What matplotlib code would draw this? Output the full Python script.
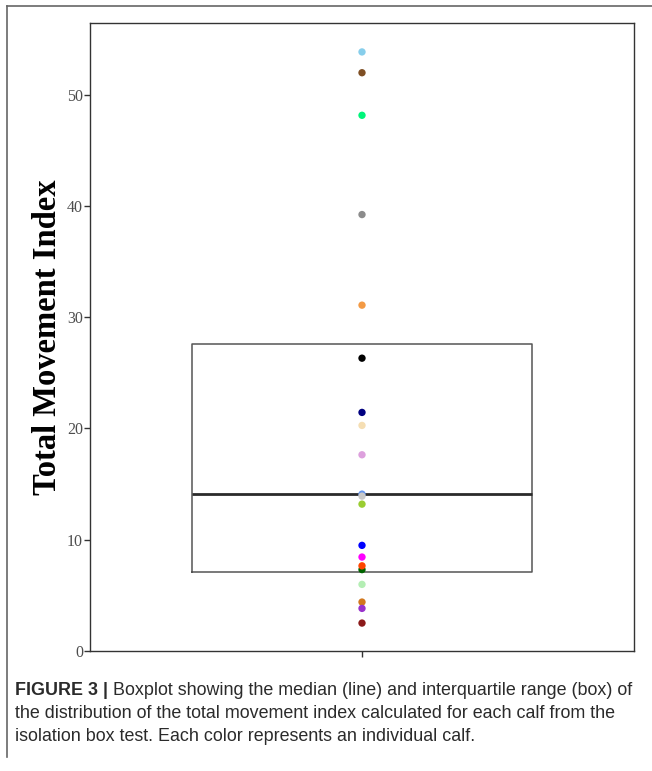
import matplotlib
matplotlib.use("Agg")
import matplotlib.pyplot as plt
from matplotlib.lines import Line2D

# ---- data ----
calf_values = [53.87, 52.0, 48.17, 39.24, 31.09, 26.32, 21.44, 20.27, 17.63,
               14.09, 13.91, 13.19, 9.48, 8.43, 7.30, 7.64, 5.97, 4.38, 3.81, 2.49]
calf_colors = ["#87CEEB", "#7F4F24", "#00F57A", "#8C8C8C", "#F39A45", "#000000",
               "#000080", "#F5DEB3", "#DDA0DD", "#6495ED", "#C8C8C8", "#9ACD32",
               "#0000FF", "#FF00FF", "#006400", "#FF4500", "#B4EEB4", "#D2781E",
               "#9932CC", "#8B1A1A"]
box_q1 = 7.05
box_median = 14.09
box_q3 = 27.58
y_ticks = [0, 10, 20, 30, 40, 50]
y_label = "Total Movement Index"
caption_bold = "FIGURE 3 |"
caption_lines = [" Boxplot showing the median (line) and interquartile range (box) of",
                 "the distribution of the total movement index calculated for each calf from the",
                 "isolation box test. Each color represents an individual calf."]

W, H = 652, 771
fig = plt.figure(figsize=(W / 100, H / 100), dpi=100)
ax = fig.add_axes([90 / W, 1 - 651.3 / H, (634 - 90) / W, (651.3 - 22.7) / H])

stats = [dict(med=box_median, q1=box_q1, q3=box_q3, whislo=box_q1, whishi=box_q3, fliers=[])]
ax.bxp(stats, positions=[1], widths=0.75, showcaps=False, showfliers=False,
       boxprops=dict(color="#555555", linewidth=1.1),
       whiskerprops=dict(linewidth=0),
       medianprops=dict(color="#2a2a2a", linewidth=2.0),
       manage_ticks=False, zorder=2)

ax.scatter([1] * len(calf_values), calf_values, c=calf_colors, s=28,
           linewidths=0, zorder=3)

ax.set_xlim(0.4, 1.6)
ax.set_ylim(-0.05, 56.5)
ax.set_xticks([1])
ax.set_xticklabels([""])
ax.set_yticks(y_ticks)
ax.set_yticklabels([str(t) for t in y_ticks], family="Liberation Serif",
                   fontsize=11.5, color="#4d4d4d")
ax.tick_params(axis="both", direction="out", length=4, width=1, color="#333333", pad=1)
for s in ax.spines.values():
    s.set_color("#333333")
    s.set_linewidth(1.0)

ax.set_ylabel(y_label, family="Liberation Serif", fontweight="bold",
              fontsize=23.5, color="#000000", labelpad=3)

# outer frame lines (top and left)
fig.add_artist(Line2D([7 / W, 1.0], [1 - 6 / H, 1 - 6 / H], color="#666666", linewidth=1.2))
fig.add_artist(Line2D([7 / W, 7 / W], [1 - 6 / H, 1 - 757 / H], color="#666666", linewidth=1.2))

# caption
cap_kw = dict(family="Liberation Sans", fontsize=12.9, color="#2b2b2b", va="baseline")
x0 = 15 / W
ys = [695, 718, 741]
t_bold = fig.text(x0, 1 - ys[0] / H, caption_bold, fontweight="bold", **cap_kw)
fig.canvas.draw()
bb = t_bold.get_window_extent(renderer=fig.canvas.get_renderer())
fig.text(bb.x1 / W, 1 - ys[0] / H, caption_lines[0], **cap_kw)
for line, y in zip(caption_lines[1:], ys[1:]):
    fig.text(x0, 1 - y / H, line, **cap_kw)

fig.savefig("out.png", dpi=100)
